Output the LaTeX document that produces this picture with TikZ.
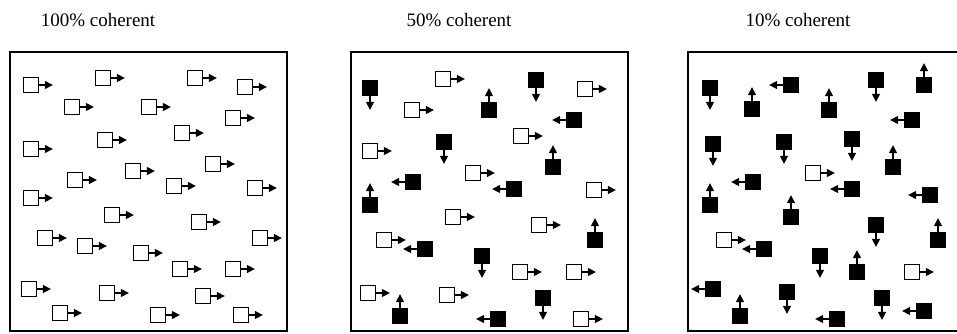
\documentclass[tikz,border=0pt]{standalone}
\usepackage{fontspec}
\setmainfont{Liberation Serif}
\usetikzlibrary{arrows.meta}

\tikzset{
    wsq/.style = {draw, line width=1.2pt, fill=white, minimum size=15.5pt, inner sep=0pt},
    bsq/.style = {wsq, fill=black},
    mv/.style = {line width=1.4pt, -{Triangle[length=8pt, width=8pt]}},
    panel/.style = {line width=1.1pt},
    ttl/.style = {font=\fontsize{19}{21}\selectfont, inner sep=0pt}
}

\begin{document}
\begin{tikzpicture}[x=1pt, y=-1pt]
    \useasboundingbox (0,0) rectangle (957,333);

    % titles
    \node [ttl] (t1) at (98,20) {100\% coherent};
    \node [ttl] (t2) at (459,20) {50\% coherent};
    \node [ttl] (t3) at (798,20) {10\% coherent};

    % frames
    \draw [panel] (10,52) rectangle (287,331);
    \draw [panel] (351,52) rectangle (628,331);
    \draw [panel] (688,52) rectangle (965,331);

    % 100% : everything goes right
    \foreach \x/\y [count=\i] in {31/85, 103/78, 195/78, 245/87, 72/107, 149/107, 233/118,
            182/133, 31/149, 105/140, 213/164, 133/171, 75/180, 174/186, 255/188, 31/198,
            112/215, 199/222, 45/238, 85/246, 260/238, 141/253, 180/269, 233/269, 29/289,
            107/293, 203/296, 60/313, 158/315, 241/315}
    {
        \node [wsq] (a\i) at (\x,\y) {};
        \draw [mv] (a\i.east) -- ++(0:13.5);
    }

    % 50% : half of them go right
    \foreach \x/\y/\s/\a/\t [count=\i] in {370/88/bsq/south/90, 443/79/wsq/east/0,
            536/80/bsq/south/90, 585/89/wsq/east/0, 412/110/wsq/east/0, 489/110/bsq/north/-90,
            574/120/bsq/west/180, 521/136/wsq/east/0, 444/142/bsq/south/90, 370/151/wsq/east/0,
            553/167/bsq/north/-90, 473/173/wsq/east/0, 413/182/bsq/west/180, 514/189/bsq/west/180,
            594/190/wsq/east/0, 370/205/bsq/north/-90, 453/217/wsq/east/0, 539/225/wsq/east/0,
            595/240/bsq/north/-90, 384/240/wsq/east/0, 425/249/bsq/west/180, 482/256/bsq/south/90,
            520/272/wsq/east/0, 574/272/wsq/east/0, 368/293/wsq/east/0, 447/295/wsq/east/0,
            543/298/bsq/south/90, 400/316/bsq/north/-90, 498/319/bsq/west/180, 581/319/wsq/east/0}
    {
        \node [\s] (b\i) at (\x,\y) {};
        \draw [mv] (b\i.\a) -- ++(\t:13.5);
    }

    % 10% : three of them go right
    \foreach \x/\y/\s/\a/\t [count=\i] in {710/88/bsq/south/90, 791/85/bsq/west/180,
            752/109/bsq/north/-90, 829/110/bsq/north/-90, 876/80/bsq/south/90, 924/85/bsq/north/-90,
            912/120/bsq/west/180, 713/144/bsq/south/90, 784/142/bsq/south/90, 852/139/bsq/south/90,
            893/167/bsq/north/-90, 813/173/wsq/east/0, 753/182/bsq/west/180, 852/189/bsq/west/180,
            930/195/bsq/west/180, 710/205/bsq/north/-90, 791/217/bsq/north/-90, 876/225/bsq/south/90,
            938/240/bsq/north/-90, 724/240/wsq/east/0, 764/249/bsq/west/180, 820/256/bsq/south/90,
            857/272/bsq/north/-90, 912/272/wsq/east/0, 713/289/bsq/west/180, 787/292/bsq/south/90,
            882/298/bsq/south/90, 740/316/bsq/north/-90, 837/319/bsq/west/180, 924/311/bsq/west/180}
    {
        \node [\s] (c\i) at (\x,\y) {};
        \draw [mv] (c\i.\a) -- ++(\t:13.5);
    }
\end{tikzpicture}
\end{document}
